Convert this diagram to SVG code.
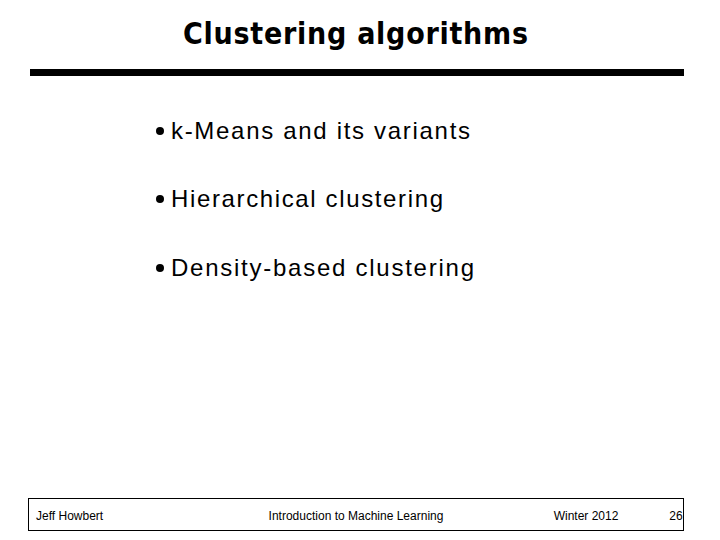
<svg xmlns="http://www.w3.org/2000/svg" width="720" height="540" viewBox="0 0 720 540">
<style>
.t{font-family:"Liberation Sans",Arial,sans-serif;font-size:24px;fill:#000}
.f{font-family:"Liberation Sans",Arial,sans-serif;font-size:12px;fill:#000}
</style>
<rect width="720" height="540" fill="#fff"/>
<g id="title"><text x="183" y="44" style="font-family:'DejaVu Sans Condensed','Liberation Sans',sans-serif;font-weight:bold;font-size:30px" textLength="345">Clustering algorithms</text></g>
<rect x="30" y="69" width="654" height="7" fill="#000"/>
<g id="b1"><circle cx="160" cy="131" r="4"/><text class="t" x="171" y="139" textLength="299">k-Means and its variants</text></g>
<g id="b2"><circle cx="160" cy="199" r="4"/><text class="t" x="171" y="207" textLength="272">Hierarchical clustering</text></g>
<g id="b3"><circle cx="160" cy="268" r="4"/><text class="t" x="171" y="276" textLength="303">Density-based clustering</text></g>
<g id="footer">
<rect x="28.5" y="498.5" width="655" height="32" fill="none" stroke="#000"/>
<text class="f" x="36" y="520">Jeff Howbert</text>
<text class="f" x="356" y="520" text-anchor="middle">Introduction to Machine Learning</text>
<text class="f" x="586" y="520" text-anchor="middle">Winter 2012</text>
<text class="f" x="676" y="520" text-anchor="middle">26</text>
</g>
</svg>
